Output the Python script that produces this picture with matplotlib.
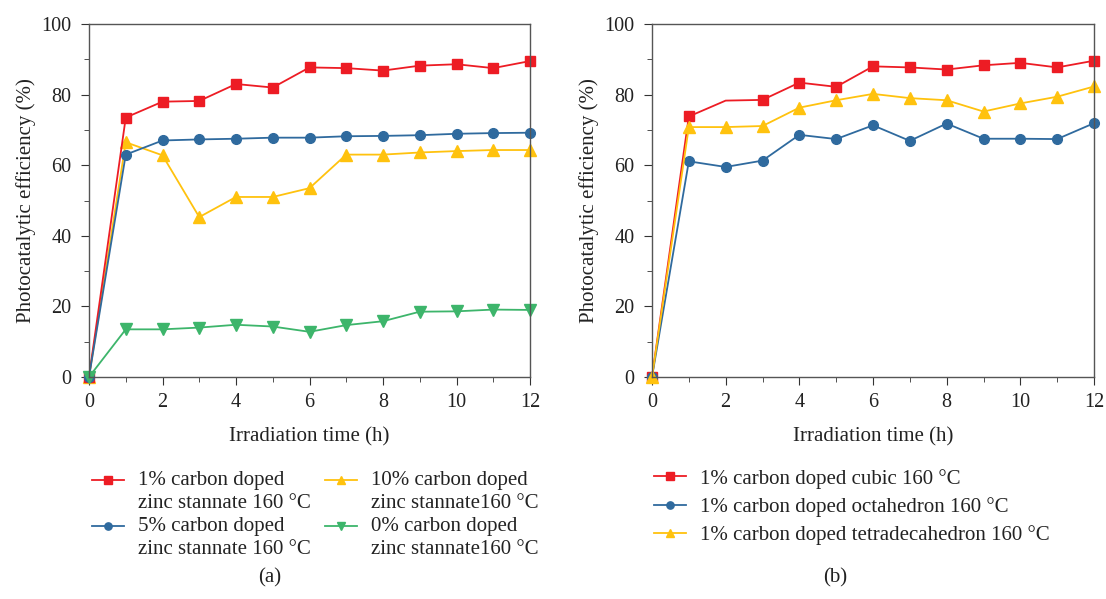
import matplotlib
matplotlib.use("Agg")
import matplotlib.pyplot as plt
import numpy as np
from matplotlib.legend_handler import HandlerLine2D

plt.rcParams['font.family'] = ['Liberation Serif', 'DejaVu Serif']

hours = list(range(13))

# panel (a)
labels_a = ["1% carbon doped\nzinc stannate 160 °C",
            "5% carbon doped\nzinc stannate 160 °C",
            "10% carbon doped\nzinc stannate160 °C",
            "0% carbon doped\nzinc stannate160 °C"]
red_a = [0, 73.5, 78.0, 78.2, 83.0, 82.0, 87.7, 87.5, 86.8, 88.2, 88.6, 87.5, 89.5]
blue_a = [0, 63.0, 67.0, 67.3, 67.5, 67.8, 67.8, 68.2, 68.3, 68.5, 68.9, 69.1, 69.2]
yellow_a = [0, 66.5, 62.8, 45.3, 51.0, 51.0, 53.5, 63.0, 63.0, 63.6, 64.0, 64.3, 64.3]
green_a = [0, 13.5, 13.5, 14.0, 14.8, 14.3, 12.8, 14.7, 15.8, 18.5, 18.6, 19.1, 19.0]

# panel (b)
labels_b = ["1% carbon doped cubic 160 °C",
            "1% carbon doped octahedron 160 °C",
            "1% carbon doped tetradecahedron 160 °C"]
red_b = [0, 73.8, 78.3, 78.5, 83.4, 82.2, 88.0, 87.7, 87.1, 88.3, 89.0, 87.7, 89.6]
blue_b = [0, 61.1, 59.5, 61.3, 68.6, 67.4, 71.3, 66.9, 71.8, 67.5, 67.5, 67.4, 71.9]
yellow_b = [0, 70.8, 70.8, 71.1, 76.3, 78.4, 80.2, 79.0, 78.4, 75.2, 77.5, 79.4, 82.3]

RED = '#ED1C24'
BLUE = '#2F6A9E'
YELLOW = '#FFC20E'
GREEN = '#3DB56B'
TXT = '#222222'


# legend handle lined up with the first line of a two-line label
class FirstLineHandler(HandlerLine2D):
    def __init__(self, shift, **kw):
        super().__init__(**kw)
        self.shift = shift

    def create_artists(self, legend, orig_handle, xdescent, ydescent,
                       width, height, fontsize, trans):
        arts = super().create_artists(legend, orig_handle, xdescent, ydescent,
                                      width, height, fontsize, trans)
        for a in arts:
            a.set_ydata(np.asarray(a.get_ydata()) + self.shift)
        return arts


fig = plt.figure(figsize=(11.06, 5.99), dpi=100)
ax1 = fig.add_axes([89/1106, 1 - 377/599, 441/1106, 353/599])
ax2 = fig.add_axes([652/1106, 1 - 377/599, 442/1106, 353/599])


def style(ax):
    ax.set_xlim(0, 12)
    ax.set_ylim(0, 100)
    ax.set_xticks(range(0, 13, 2))
    ax.set_xticks(range(13), minor=True)
    ax.set_yticks(range(0, 101, 20))
    ax.set_yticks(range(0, 101, 10), minor=True)
    ax.tick_params(which='both', direction='out', colors='#333333', labelsize=14.5,
                   labelcolor=TXT)
    ax.tick_params(axis='y', which='major', length=5.5, pad=7)
    ax.tick_params(axis='x', which='major', length=5.5, pad=6)
    ax.tick_params(which='minor', length=3.5)
    for s in ax.spines.values():
        s.set_color('#555555')
        s.set_linewidth(1.0)
    ax.set_xlabel('Irradiation time (h)', fontsize=15, color=TXT, labelpad=11)
    ax.set_ylabel('Photocatalytic efficiency (%)', fontsize=15, color=TXT, labelpad=4)


kw = dict(lw=1.3, ms=7, clip_on=False)
ax1.plot(hours, red_a, color=RED, marker='s', label=labels_a[0], **kw)
ax1.plot(hours, blue_a, color=BLUE, marker='o', label=labels_a[1], **kw)
ax1.plot(hours, yellow_a, color=YELLOW, marker='^', label=labels_a[2], zorder=1.9,
         lw=1.3, ms=8.5, clip_on=False)
ax1.plot(hours, green_a, color=GREEN, marker='v', label=labels_a[3],
         lw=1.3, ms=8.5, clip_on=False)
style(ax1)

ax2.plot(hours, red_b, color=RED, marker='s', label=labels_b[0],
         markevery=[0, 1, 3, 4, 5, 6, 7, 8, 9, 10, 11, 12], **kw)
ax2.plot(hours, blue_b, color=BLUE, marker='o', label=labels_b[1], **kw)
ax2.plot(hours, yellow_b, color=YELLOW, marker='^', label=labels_b[2],
         lw=1.3, ms=8.5, clip_on=False)
style(ax2)

# legends below panels
h1, l1 = ax1.get_legend_handles_labels()
leg1 = fig.legend(h1, l1, loc='upper left', bbox_to_anchor=(73/1106, 1 - 452/599),
                  ncol=2, frameon=False, fontsize=15, markerscale=0.75,
                  handlelength=1.55, columnspacing=0.7, labelspacing=0.2,
                  handletextpad=0.65, labelcolor=TXT,
                  handler_map={h: FirstLineHandler(8.3) for h in h1})
for t in leg1.get_texts():
    t.set_linespacing(1.3)
h2, l2 = ax2.get_legend_handles_labels()
fig.legend(h2, l2, loc='upper left', bbox_to_anchor=(635/1106, 1 - 450/599),
           ncol=1, frameon=False, fontsize=15, markerscale=0.75,
           handlelength=1.55, labelspacing=0.4, handletextpad=0.65,
           labelcolor=TXT)

fig.text(270/1106, 1 - 578/599, '(a)', ha='center', va='center', fontsize=15, color=TXT)
fig.text(835/1106, 1 - 578/599, '(b)', ha='center', va='center', fontsize=15, color=TXT)

fig.savefig('out.png', dpi=100)
